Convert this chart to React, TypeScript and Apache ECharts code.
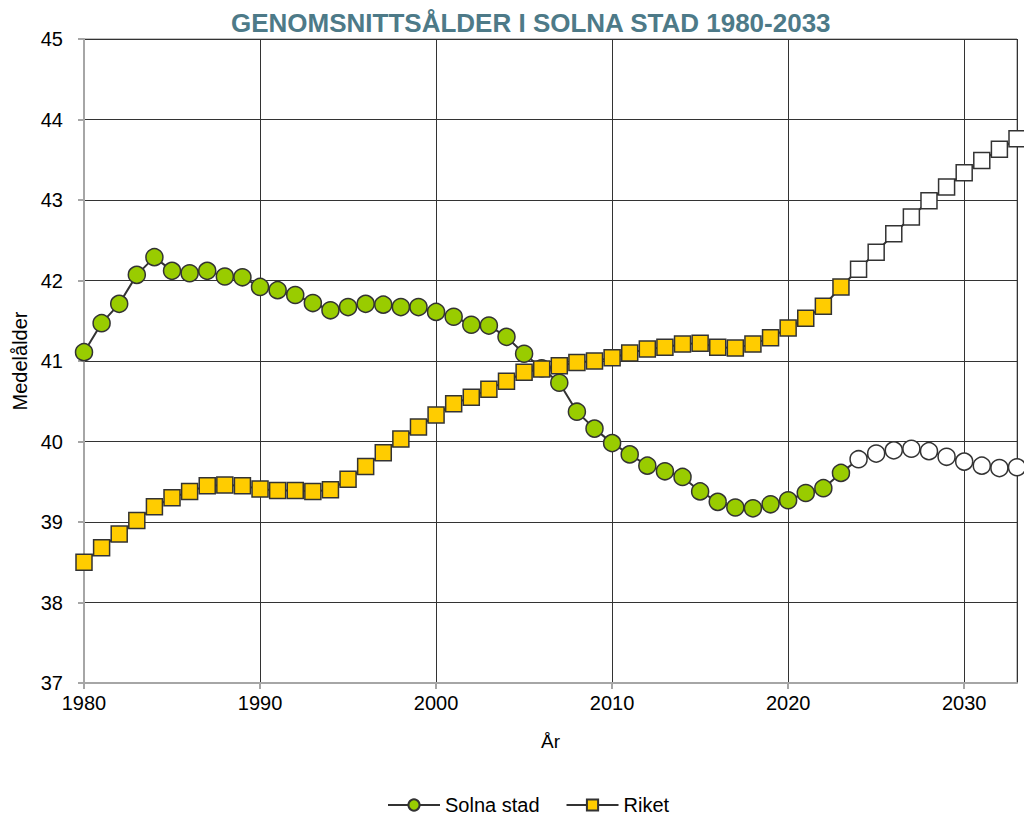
import React, { useEffect, useRef } from "react";
import * as echarts from "echarts";

const years = [
  1980, 1981, 1982, 1983, 1984, 1985, 1986, 1987, 1988, 1989,
  1990, 1991, 1992, 1993, 1994, 1995, 1996, 1997, 1998, 1999,
  2000, 2001, 2002, 2003, 2004, 2005, 2006, 2007, 2008, 2009,
  2010, 2011, 2012, 2013, 2014, 2015, 2016, 2017, 2018, 2019,
  2020, 2021, 2022, 2023, 2024, 2025, 2026, 2027, 2028, 2029,
  2030, 2031, 2032, 2033,
];

const solna = [
  41.11, 41.47, 41.71, 42.07, 42.29, 42.12, 42.09, 42.12, 42.05, 42.04,
  41.92, 41.88, 41.82, 41.72, 41.63, 41.67, 41.71, 41.70, 41.67, 41.67,
  41.61, 41.55, 41.45, 41.44, 41.30, 41.09, 40.91, 40.73, 40.37, 40.16,
  39.98, 39.84, 39.70, 39.63, 39.56, 39.38, 39.25, 39.18, 39.17, 39.22,
  39.27, 39.36, 39.42, 39.61, 39.78, 39.85, 39.89, 39.91, 39.88, 39.81,
  39.75, 39.70, 39.67, 39.68,
];

const riket = [
  38.50, 38.68, 38.85, 39.02, 39.19, 39.30, 39.38, 39.45, 39.46, 39.45,
  39.41, 39.39, 39.39, 39.38, 39.40, 39.53, 39.69, 39.86, 40.03, 40.18,
  40.33, 40.47, 40.55, 40.65, 40.75, 40.86, 40.90, 40.94, 40.98, 41.00,
  41.04, 41.10, 41.15, 41.17, 41.21, 41.22, 41.17, 41.16, 41.21, 41.29,
  41.41, 41.53, 41.68, 41.92, 42.14, 42.35, 42.58, 42.79, 42.99, 43.16,
  43.34, 43.49, 43.63, 43.76,
];

const forecastStartYear = 2024;

const seriesNames = ["Solna stad", "Riket"];
const titleText = "GENOMSNITTSÅLDER I SOLNA STAD 1980-2033";
const xName = "År";
const yName = "Medelålder";

const FONT = "'Liberation Sans', Arial, sans-serif";

function buildData(values: number[]) {
  return years.map((y, i) => {
    const item: any = { value: [y, values[i]] };
    if (y >= forecastStartYear) item.itemStyle = { color: "#ffffff" };
    return item;
  });
}

export default function App() {
  const ref = useRef<HTMLDivElement>(null);
  useEffect(() => {
    if (!ref.current) return;
    const chart = echarts.init(ref.current, null, { renderer: "svg" });
    chart.setOption({
      animation: false,
      backgroundColor: "#ffffff",
      title: {
        text: titleText,
        left: 226,
        top: 5,
        textStyle: {
          fontFamily: FONT,
          fontWeight: "bold",
          fontSize: 26,
          color: "#4D7A88",
        },
      },
      legend: {
        top: 790,
        left: 382,
        itemWidth: 52,
        itemHeight: 14,
        itemGap: 26,
        data: seriesNames,
        textStyle: { fontFamily: FONT, fontSize: 20, color: "#000" },
      },
      grid: {
        left: 84,
        right: 7,
        top: 39,
        bottom: 132,
        show: true,
        borderColor: "#808080",
        borderWidth: 1,
      },
      xAxis: {
        type: "value",
        min: 1980,
        max: 2033,
        interval: 10,
        name: xName,
        nameLocation: "middle",
        nameGap: 49,
        nameTextStyle: { fontFamily: FONT, fontSize: 19, color: "#000" },
        axisLine: { show: true, lineStyle: { color: "#a6a6a6", width: 2 } },
        axisTick: { show: true, length: 6, lineStyle: { color: "#a6a6a6", width: 2 } },
        axisLabel: {
          fontFamily: FONT,
          fontSize: 20,
          color: "#000",
          margin: 10,
          showMaxLabel: false,
          formatter: (v: number) => String(v),
        },
        splitLine: { show: true, lineStyle: { color: "#333", width: 1 } },
      },
      yAxis: {
        type: "value",
        min: 37,
        max: 45,
        interval: 1,
        name: yName,
        nameLocation: "middle",
        nameGap: 52,
        nameRotate: 90,
        nameTextStyle: { fontFamily: FONT, fontSize: 20, color: "#000" },
        axisLine: { show: true, lineStyle: { color: "#a6a6a6", width: 2 } },
        axisTick: { show: true, length: 6, lineStyle: { color: "#a6a6a6", width: 2 } },
        axisLabel: { fontFamily: FONT, fontSize: 20, color: "#000", margin: 21 },
        splitLine: { show: true, lineStyle: { color: "#333", width: 1 } },
      },
      series: [
        {
          name: seriesNames[0],
          type: "line",
          data: buildData(solna),
          symbol: "circle",
          symbolSize: 17,
          lineStyle: { color: "#333", width: 2 },
          itemStyle: { color: "#99CC00", borderColor: "#333", borderWidth: 1.5 },
          z: 3,
        },
        {
          name: seriesNames[1],
          type: "line",
          data: buildData(riket),
          symbol: "rect",
          symbolSize: 16,
          lineStyle: { color: "#333", width: 2 },
          itemStyle: { color: "#FFCC00", borderColor: "#333", borderWidth: 1.5 },
          z: 4,
        },
      ],
    });
    return () => chart.dispose();
  }, []);
  return (
    <div
      ref={ref}
      style={{ position: "fixed", left: 0, top: 0, width: 1024, height: 815 }}
    />
  );
}
